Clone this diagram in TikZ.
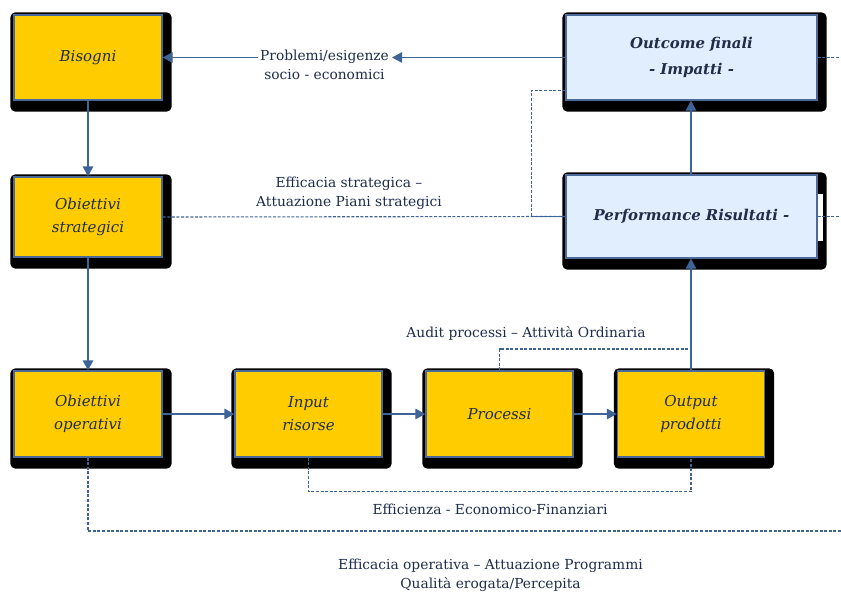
\documentclass[tikz,border=0pt]{standalone}
\usepackage{fontspec}
\setmainfont{DejaVu Serif}
\usetikzlibrary{arrows.meta,backgrounds,calc}
\definecolor{boxyellow}{HTML}{FFCC00}
\definecolor{boxblue}{HTML}{E1EEFD}
\definecolor{edgeblue}{HTML}{4A6A9A}
\definecolor{lineblue}{HTML}{3E6497}
\definecolor{txtnavy}{HTML}{1F2D4A}
\tikzset{
  ybox/.style={rectangle, draw=edgeblue, line width=1.3pt, fill=boxyellow,
    minimum width=148pt, minimum height=85pt, align=center, text=txtnavy,
    font=\fontsize{15}{23}\selectfont\itshape, inner sep=0pt},
  bbox/.style={rectangle, draw=edgeblue, line width=1.3pt, fill=boxblue,
    minimum width=251pt, minimum height=85pt, align=center, text=txtnavy,
    font=\fontsize{14.9}{26}\selectfont\bfseries\itshape, inner sep=0pt},
  conn/.style={draw=lineblue, line width=1.3pt, -{Triangle[length=10pt,width=10.5pt]}},
  dline/.style={draw=lineblue, line width=1.1pt, dash pattern=on 3pt off 1.6pt},
  lbl/.style={align=center, text=txtnavy, font=\fontsize{13.8}{19}\selectfont, inner sep=0pt},
  shad/.style={fill=black, rounded corners=5pt}
}
\begin{document}
\begin{tikzpicture}[x=1pt,y=-1pt]
\useasboundingbox (0,0) rectangle (841,594);
% boxes
\node[ybox] (bis) at (88,57.5) {Bisogni};
\node[ybox, minimum height=80pt] (strat) at (88,217) {Obiettivi\\strategici};
\node[ybox, minimum height=86pt] (oper) at (88,414) {Obiettivi\\operativi};
\node[ybox, minimum width=147pt, minimum height=86pt] (inp) at (308.5,414) {Input\\risorse};
\node[ybox, minimum width=147pt, minimum height=86pt] (proc) at (499.5,414) {Processi};
\node[ybox, minimum width=147pt, minimum height=86pt] (outp) at (691,414) {Output\\prodotti};
\node[bbox] (outc) at (691.5,57.5) {Outcome finali\\- Impatti -};
\node[bbox, minimum height=83pt] (perf) at (691.5,216.5) {Performance Risultati -};
% shadows
\begin{scope}[on background layer]
\fill[white] (0,0) rectangle (841,594);
\foreach \n in {bis,strat,oper,inp,proc,outp,outc,perf}{
  \fill[shad] ([shift={(-3,-2)}]\n.north west) rectangle ([shift={(9,11)}]\n.south east);
}
\fill[white] ([shift={(0,-23)}]perf.east) rectangle ([shift={(5,24)}]perf.east);
\end{scope}
% labels
\node[lbl] (lblP) at (324.5,64.5) {Problemi/esigenze\\socio - economici};
\node[lbl] (lblS) at (349,193.5) {Efficacia strategica –\\Attuazione Piani strategici};
\node[lbl] (lblA) at (526,333) {Audit processi – Attività Ordinaria};
\node[lbl] (lblE) at (490,509) {Efficienza - Economico-Finanziari};
\node[lbl] (lblO) at (490.5,575.5) {Efficacia operativa – Attuazione Programmi\\Qualità erogata/Percepita};
% free ends
\coordinate (rA) at (841,57.5);
\coordinate (rB) at (841,216.5);
\coordinate (rC) at (841,531);
\coordinate (aJ) at (691,349);
% solid connectors
\draw[conn] (bis.south) -- (strat.north);
\draw[conn] (strat.south) -- (oper.north);
\draw[conn] (oper.east) -- (inp.west);
\draw[conn] (inp.east) -- (proc.west);
\draw[conn] (proc.east) -- (outp.west);
\draw[conn] (outp.north) -- (outp.north |- perf.south);
\draw[conn] (outp.north |- perf.north) -- (outp.north |- outc.south);
\draw[conn] (outc.west) -- ([xshift=3pt]lblP.east |- outc.west);
\draw[conn] ([xshift=-2pt]lblP.west |- bis.east) -- (bis.east);
% dashed connectors
\draw[dline] (strat.east) -- (perf.west);
\draw[dline] ([shift={(0,-10)}]outc.south west) -- ++(-34,0) |- (perf.west);
\draw[dline] (outc.east) -- (rA);
\draw[dline] (perf.east) -- (rB);
\draw[dline] (proc.north) |- (aJ);
\draw[dline] (inp.south) -- ++(0,34) -| (outp.south);
\draw[dline] (oper.south) |- (rC);
\end{tikzpicture}
\end{document}
